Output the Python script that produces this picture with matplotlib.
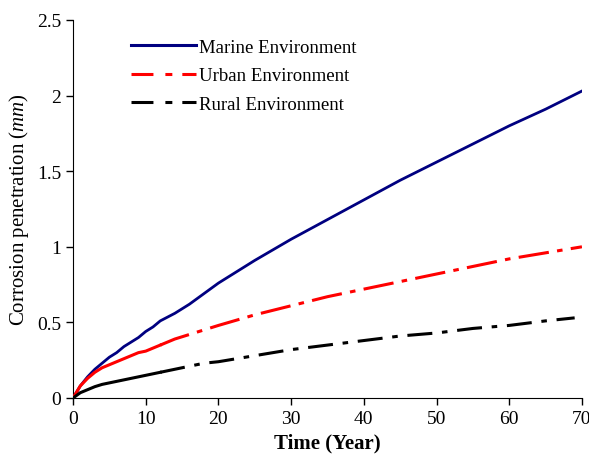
import matplotlib
matplotlib.use("Agg")
import matplotlib.pyplot as plt
from matplotlib.lines import Line2D

plt.rcParams['font.family'] = ['Liberation Serif', 'DejaVu Serif']
plt.rcParams['mathtext.fontset'] = 'custom'
plt.rcParams['mathtext.rm'] = 'Liberation Serif'
plt.rcParams['mathtext.it'] = 'Liberation Serif:italic'
plt.rcParams['lines.scale_dashes'] = False

marine_t = [0, 1, 2, 3, 4, 5, 6, 7, 8, 9, 10, 11, 12, 14, 16, 18, 20, 25, 30, 35, 40, 45, 50, 55, 60, 65, 70]
marine_d = [0, 0.08, 0.14, 0.19, 0.23, 0.27, 0.30, 0.34, 0.37, 0.40, 0.44, 0.47, 0.51, 0.56, 0.62, 0.69, 0.76,
            0.91, 1.05, 1.18, 1.31, 1.44, 1.56, 1.68, 1.80, 1.91, 2.03]

urban_t = [0, 1, 2, 3, 4, 5, 6, 7, 8, 9, 10, 11, 12, 14, 16, 18, 20, 25, 30, 35, 40, 45, 50, 55, 60, 65, 70]
urban_d = [0, 0.08, 0.13, 0.17, 0.20, 0.22, 0.24, 0.26, 0.28, 0.30, 0.31, 0.33, 0.35, 0.39, 0.42, 0.45, 0.48,
           0.55, 0.61, 0.67, 0.72, 0.77, 0.82, 0.87, 0.92, 0.96, 1.00]

rural_t = [0, 1, 2, 3, 4, 5, 6, 7, 8, 9, 10, 12, 14, 16, 18, 20, 25, 30, 35, 40, 45, 50, 55, 60, 65, 69]
rural_d = [0, 0.035, 0.055, 0.075, 0.09, 0.10, 0.11, 0.12, 0.13, 0.14, 0.15, 0.17, 0.19, 0.21, 0.23, 0.24,
           0.28, 0.32, 0.35, 0.38, 0.41, 0.43, 0.46, 0.48, 0.51, 0.53]

labels = ['Marine Environment', 'Urban Environment', 'Rural Environment']
xticks = [0, 10, 20, 30, 40, 50, 60, 70]
yticks = [0, 0.5, 1, 1.5, 2, 2.5]
ytick_labels = ['0', '0.5', '1', '1.5', '2', '2.5']

fig = plt.figure(figsize=(5.89, 4.56), dpi=100)
ax = fig.add_axes([0.124, 0.125, 0.864, 0.829])

urban_ls = (0, (22, 6, 4, 6))
rural_ls = (0, (18, 7, 4, 7))
# early part drawn solid (dense points), later part dashed
ku = urban_t.index(12)
kr = rural_t.index(12)

ax.plot(marine_t, marine_d, color='#000080', lw=2.0, zorder=3)
ax.plot(urban_t[:ku + 1], urban_d[:ku + 1], color='#ff0000', lw=2.2, zorder=4)
ax.plot(urban_t[ku:], urban_d[ku:], color='#ff0000', lw=2.2, linestyle=urban_ls, zorder=4)
ax.plot(rural_t[:kr + 1], rural_d[:kr + 1], color='#000000', lw=2.2, zorder=4)
ax.plot(rural_t[kr:], rural_d[kr:], color='#000000', lw=2.2, linestyle=rural_ls, zorder=4)

leg_ls = (0, (15.8, 8.6, 5, 7.2))
handles = [Line2D([], [], color='#000080', lw=2.2),
           Line2D([], [], color='#ff0000', lw=2.2, linestyle=leg_ls),
           Line2D([], [], color='#000000', lw=2.2, linestyle=leg_ls)]

ax.set_xlim(0, 70)
ax.set_ylim(0, 2.5)
ax.set_xticks(xticks)
ax.set_yticks(yticks)
ax.set_yticklabels(ytick_labels)
ax.spines['top'].set_visible(False)
ax.spines['right'].set_visible(False)
ax.tick_params(direction='out', length=5, labelsize=14, width=1)
ax.set_xlabel('Time (Year)', fontsize=15, fontweight='bold')
ax.set_ylabel('Corrosion penetration ($\\it{mm}$)', fontsize=15)

ax.legend(handles, labels, loc='upper left', bbox_to_anchor=(0.08, 0.995), frameon=False, fontsize=13.5,
          handlelength=3.5, handletextpad=0.15, labelspacing=0.6)

fig.savefig('out.png', dpi=100)
